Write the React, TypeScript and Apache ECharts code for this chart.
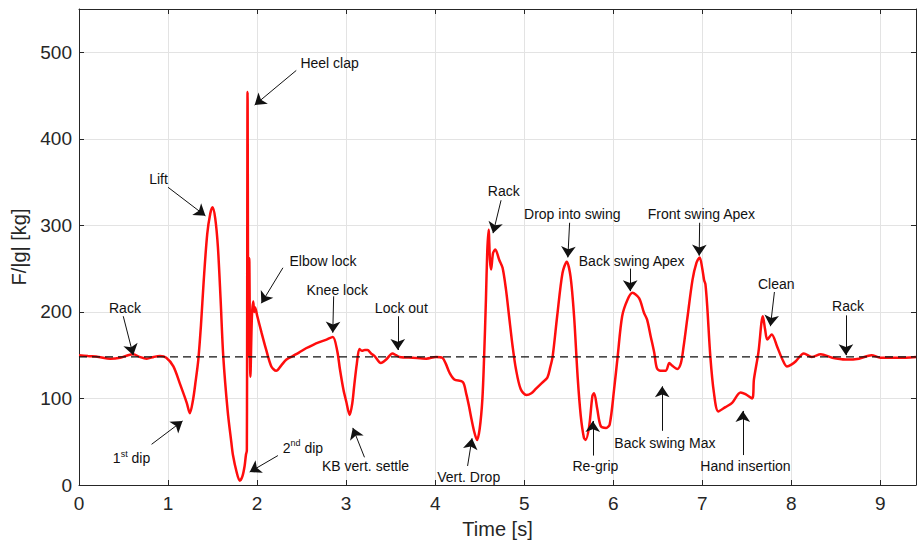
import React, { useEffect, useRef } from "react";
import * as echarts from "echarts";

// Time axis (s) and measured force (kg)
const times: number[] = [
  0.0, 0.1, 0.22, 0.35, 0.46, 0.55, 0.61, 0.68, 0.76, 0.84, 0.91, 0.98,
  1.06, 1.13, 1.21, 1.245, 1.28, 1.31, 1.34, 1.37, 1.4, 1.44, 1.475, 1.5, 1.53,
  1.56, 1.59, 1.62, 1.67, 1.71, 1.73, 1.77, 1.805, 1.835, 1.86, 1.875, 1.885,
  1.893, 1.902, 1.912, 1.925, 1.942, 1.957, 1.968, 1.978, 2.0, 2.05, 2.1, 2.16,
  2.215, 2.27, 2.33, 2.4, 2.47, 2.55, 2.63, 2.7, 2.78, 2.85, 2.9, 2.93, 2.97,
  3.0, 3.04, 3.07, 3.09, 3.12, 3.15, 3.18, 3.21, 3.24, 3.28, 3.32, 3.39, 3.45,
  3.52, 3.56, 3.6, 3.75, 3.9, 4.01, 4.08, 4.12, 4.16, 4.215, 4.31, 4.35, 4.38,
  4.41, 4.44, 4.47, 4.5, 4.53, 4.55, 4.57, 4.585, 4.6, 4.615, 4.628, 4.65,
  4.675, 4.72, 4.757, 4.795, 4.83, 4.87, 4.907, 4.96, 5.025, 5.08, 5.13, 5.2,
  5.26, 5.29, 5.32, 5.37, 5.43, 5.478, 5.52, 5.56, 5.6, 5.635, 5.67, 5.69,
  5.73, 5.766, 5.785, 5.82, 5.86, 5.92, 5.96, 6.01, 6.05, 6.1, 6.16, 6.215,
  6.29, 6.345, 6.38, 6.42, 6.46, 6.49, 6.53, 6.59, 6.63, 6.66, 6.72, 6.76,
  6.79, 6.83, 6.89, 6.935, 6.97, 7.0, 7.02, 7.035, 7.055, 7.09, 7.13, 7.18,
  7.26, 7.335, 7.43, 7.485, 7.56, 7.58, 7.63, 7.68, 7.705, 7.73, 7.78, 7.84,
  7.9, 7.95, 8.0, 8.05, 8.14, 8.23, 8.33, 8.46, 8.61, 8.76, 8.9, 9.0, 9.2, 9.4,
];
const force: number[] = [
  150, 149, 148, 146, 147, 150, 151, 148, 146, 148, 149, 147,
  137, 118, 95, 83, 98, 120, 145, 185, 235, 290, 314, 321, 308,
  275, 215, 149, 85, 50, 34, 15, 5, 10, 22, 35, 40,
  454, 150, 262, 125, 195, 212, 200, 205, 196, 176, 157, 137,
  132, 138, 145, 149, 153, 158, 162, 165, 168, 171, 155, 134, 110,
  97, 81, 95, 114, 140, 157, 155, 156, 156, 152, 149, 141, 145,
  152, 150, 148, 147, 146, 148, 147, 140, 130, 122, 119, 105, 91,
  75, 61, 52, 65, 99, 149, 214, 270, 295, 260, 249, 268,
  272, 260, 251, 226, 195, 160, 134, 111, 104, 106, 111, 118,
  124, 135, 149, 195, 245, 258, 241, 195, 125, 80, 55, 52,
  68, 103, 106, 88, 68, 66, 70, 111, 149, 195, 214, 222,
  216, 199, 191, 172, 153, 135, 132, 132, 141, 138, 134, 141,
  160, 191, 237, 257, 263, 250, 237, 232, 207, 149, 107, 85,
  90, 95, 107, 105, 100, 122, 153, 195, 180, 168, 174, 160,
  145, 137, 139, 143, 152, 148, 151, 147, 145, 146, 150, 147, 147, 148,
];
const baseline = 148;
const xTicks = [0, 1, 2, 3, 4, 5, 6, 7, 8, 9];
const yTicks = [0, 100, 200, 300, 400, 500];

// Annotations: label text, label centre and arrow (data coordinates)
const annLabels = [
  "Rack", "1{sup|st} dip", "Lift", "Heel clap", "Elbow lock", "Knee lock",
  "Lock out", "2{sup|nd} dip", "KB vert. settle", "Vert. Drop", "Rack",
  "Drop into swing", "Back swing Apex", "Front swing Apex", "Back swing Max",
  "Re-grip", "Hand insertion", "Clean", "Rack",
];
const annText: [number, number][] = [
  [0.516, 205], [0.59, 31], [0.893, 353], [2.814, 488], [2.74, 259], [2.9, 225],
  [3.62, 205], [2.515, 43], [3.218, 21.5], [4.376, 9.6], [4.77, 340],
  [5.54, 313], [6.207, 259], [6.99, 313], [6.58, 48], [5.8, 22], [7.485, 22],
  [7.83, 232], [8.636, 206.6],
];
const annFrom: [number, number][] = [
  [0.497, 195], [0.815, 47], [1.0, 344], [2.44, 479], [2.29, 251], [2.86, 218],
  [3.58, 195], [2.234, 34], [3.206, 32], [4.364, 22], [4.74, 329],
  [5.51, 303], [6.19, 250], [6.97, 303], [6.55, 62.6], [5.77, 34], [7.455, 34.6],
  [7.81, 223], [8.613, 196],
];
const annTo: [number, number][] = [
  [0.609, 150], [1.163, 74], [1.42, 311], [1.973, 439], [2.048, 210], [2.85, 176],
  [3.58, 156], [1.917, 15], [3.075, 66], [4.414, 54], [4.65, 291],
  [5.49, 263], [6.19, 224], [6.965, 265], [6.55, 114], [5.77, 74], [7.455, 85.6],
  [7.765, 183.5], [8.613, 150],
];

const FONT = "'Liberation Sans', Arial, Helvetica, sans-serif";
const AXIS_COLOR = "#262626";

export default function App() {
  const ref = useRef<HTMLDivElement>(null);
  useEffect(() => {
    if (!ref.current) return;
    const chart = echarts.init(ref.current, undefined, { renderer: "svg" });
    const lineData = times.map((t, i) => [t, force[i]]);
    const baseData = [[0, baseline], [9.4, baseline]];
    const axisCommon = {
      type: "value" as const,
      axisLine: { show: true, onZero: false, lineStyle: { color: AXIS_COLOR, width: 1 } },
      axisTick: { show: true, inside: true, length: 5, lineStyle: { color: AXIS_COLOR } },
    };
    chart.setOption({
      animation: false,
      textStyle: { fontFamily: FONT },
      grid: { left: 79, top: 9, right: 1, bottom: 58, containLabel: false },
      xAxis: [
        {
          ...axisCommon,
          position: "bottom",
          min: 0,
          max: 9.4,
          interval: 1,
          axisLabel: {
            fontSize: 19, color: AXIS_COLOR, margin: 9, fontFamily: FONT,
            showMaxLabel: false,
            formatter: (v: number) => (xTicks.includes(v) ? String(v) : ""),
          },
          splitLine: { show: true, lineStyle: { color: "#e3e3e3", width: 1 } },
          name: "Time [s]",
          nameLocation: "middle",
          nameGap: 34,
          nameTextStyle: { fontSize: 20, color: AXIS_COLOR, fontFamily: FONT },
        },
        {
          ...axisCommon,
          position: "top",
          min: 0,
          max: 9.4,
          interval: 1,
          axisLabel: { show: false },
          splitLine: { show: false },
        },
      ],
      yAxis: [
        {
          ...axisCommon,
          position: "left",
          min: 0,
          max: 550,
          interval: 100,
          axisLabel: {
            fontSize: 19, color: AXIS_COLOR, margin: 7, fontFamily: FONT,
            showMaxLabel: false,
            formatter: (v: number) => (yTicks.includes(v) ? String(v) : ""),
          },
          splitLine: { show: true, lineStyle: { color: "#e3e3e3", width: 1 } },
          name: "F/|g| [kg]",
          nameLocation: "middle",
          nameGap: 46,
          nameTextStyle: { fontSize: 20, color: AXIS_COLOR, fontFamily: FONT },
        },
        {
          ...axisCommon,
          position: "right",
          min: 0,
          max: 550,
          interval: 100,
          axisLabel: { show: false },
          splitLine: { show: false },
        },
      ],
      series: [
        {
          type: "line",
          data: lineData,
          showSymbol: false,
          symbol: "none",
          smooth: 0.3,
          lineStyle: { color: "#ff0d0d", width: 2.5 },
          silent: true,
          z: 2,
        },
        {
          type: "line",
          data: baseData,
          showSymbol: false,
          symbol: "none",
          lineStyle: { color: "#111", width: 1.4, type: [8, 5] },
          silent: true,
          z: 3,
          markLine: {
            silent: true,
            symbol: ["none", "arrow"],
            symbolSize: 11,
            label: { show: false },
            lineStyle: { color: "#111", width: 1, type: "solid" },
            emphasis: { disabled: true },
            data: annFrom.map((f, i) => [
              { coord: f },
              { coord: annTo[i] },
            ]),
          },
          markPoint: {
            silent: true,
            symbol: "rect",
            symbolSize: 1,
            itemStyle: { color: "rgba(0,0,0,0)" },
            label: {
              show: true,
              position: "inside",
              color: "#111",
              fontSize: 14,
              fontFamily: FONT,
              formatter: (p: any) => p.name,
              rich: {
                sup: { fontSize: 9, verticalAlign: "top", color: "#111", fontFamily: FONT, lineHeight: 18 },
              },
            },
            data: annText.map((c, i) => ({ coord: c, name: annLabels[i], value: 0 })),
          },
        },
      ],
    });
    return () => chart.dispose();
  }, []);
  return (
    <div
      ref={ref}
      style={{ position: "fixed", left: 0, top: 0, width: 917, height: 544, background: "#fff" }}
    />
  );
}
